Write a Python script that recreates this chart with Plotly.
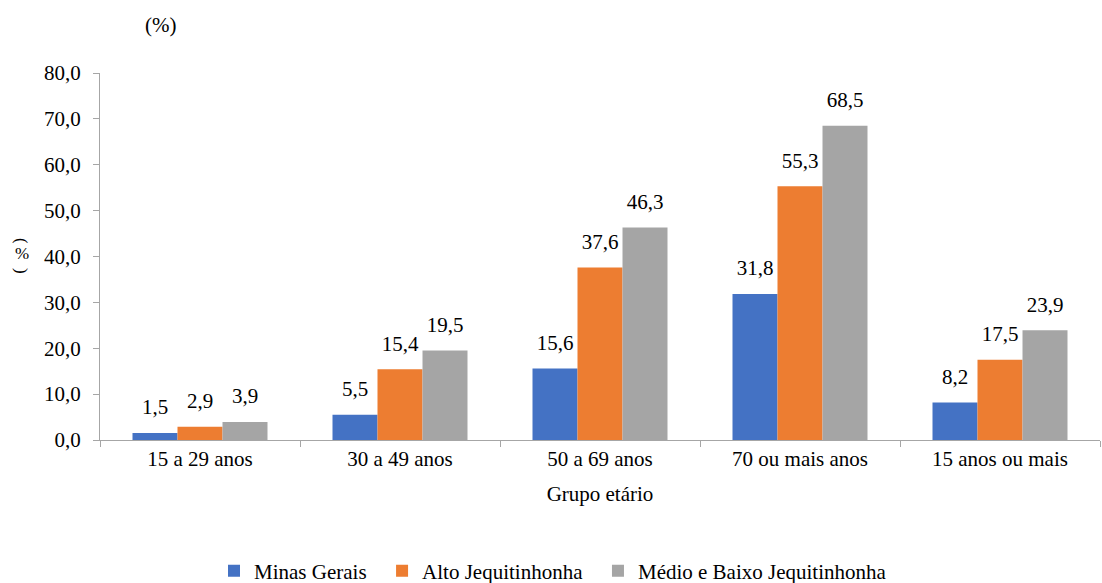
import plotly.graph_objects as go

# Age groups and the share (%) in each region
grupos = ["15 a 29 anos", "30 a 49 anos", "50 a 69 anos", "70 ou mais anos", "15 anos ou mais"]
minas_gerais = [1.5, 5.5, 15.6, 31.8, 8.2]
alto_jequitinhonha = [2.9, 15.4, 37.6, 55.3, 17.5]
medio_baixo_jequitinhonha = [3.9, 19.5, 46.3, 68.5, 23.9]

series = [
    ("Minas Gerais", minas_gerais, "#4472C4"),
    ("Alto Jequitinhonha", alto_jequitinhonha, "#ED7D31"),
    ("Médio e Baixo Jequitinhonha", medio_baixo_jequitinhonha, "#A5A5A5"),
]

FONT = "Liberation Serif"
SIZE = 21
NBSP = "\u00a0"

fig = go.Figure()
for i, (nome, valores, cor) in enumerate(series):
    # a little trailing space widens the legend entries evenly
    rotulo = nome + (NBSP * 2 if i < len(series) - 1 else "")
    fig.add_trace(go.Bar(
        x=grupos, y=valores, name=rotulo,
        marker=dict(color=cor),
        offsetgroup=str(i), alignmentgroup="g",
        hoverinfo="x+y",
    ))
    # value labels, grouped the same way as the bars
    fig.add_trace(go.Scatter(
        x=grupos, y=valores, mode="markers+text",
        text=[f"{v:.1f}".replace(".", ",") for v in valores],
        textposition="top center",
        textfont=dict(family=FONT, size=SIZE, color="#000000"),
        marker=dict(size=20, color="rgba(0,0,0,0)"),
        offsetgroup=str(i), alignmentgroup="g",
        showlegend=False, hoverinfo="skip", cliponaxis=False,
    ))

axis_color = "#A6A6A6"
fig.update_layout(
    template="none",
    width=1102, height=583,
    margin=dict(l=100, r=2, t=73, b=143, autoexpand=False),
    paper_bgcolor="white", plot_bgcolor="white",
    separators=",.",
    barmode="group", bargap=0.325, bargroupgap=0,
    scattermode="group", scattergap=0.325,
    font=dict(family=FONT, size=SIZE, color="#000000"),
    showlegend=True,
    legend=dict(
        orientation="h", x=0.114, xanchor="left", y=-0.357, yanchor="middle",
        font=dict(family=FONT, size=SIZE, color="#000000"), traceorder="normal",
    ),
    xaxis=dict(
        showline=True, linecolor=axis_color, linewidth=1.2,
        showgrid=False, zeroline=False,
        ticks="outside", tickson="boundaries", ticklen=6, tickcolor=axis_color,
        tickfont=dict(family=FONT, size=SIZE, color="#000000"),
        title=dict(text="Grupo etário", font=dict(family=FONT, size=SIZE, color="#000000"), standoff=16),
    ),
    yaxis=dict(
        range=[0, 80], dtick=10, tickformat=".1f",
        showline=True, linecolor=axis_color, linewidth=1.2,
        ticks="outside", ticklen=6, tickcolor=axis_color, ticklabelstandoff=8,
        showgrid=False, zeroline=False,
        tickfont=dict(family=FONT, size=SIZE, color="#000000"),
    ),
)

# Unit caption above the value axis
fig.add_annotation(text="(%)", xref="paper", yref="paper",
                   x=(160 - 100) / 1000, y=1 + (73 - 25) / 367,
                   xanchor="center", yanchor="middle", showarrow=False,
                   font=dict(family=FONT, size=SIZE, color="#000000"))

# Vertical axis title written top to bottom: "(", "%", ")"
for ch, ypx, ang in [("(", 241, 90), ("%", 254, 0), (")", 271, 90)]:
    fig.add_annotation(text=ch, xref="paper", yref="paper",
                       x=(22 - 100) / 1000, y=(440 - ypx) / 367,
                       xanchor="center", yanchor="middle", showarrow=False,
                       textangle=ang, font=dict(family=FONT, size=17, color="#000000"))

fig.write_html("out.html")
